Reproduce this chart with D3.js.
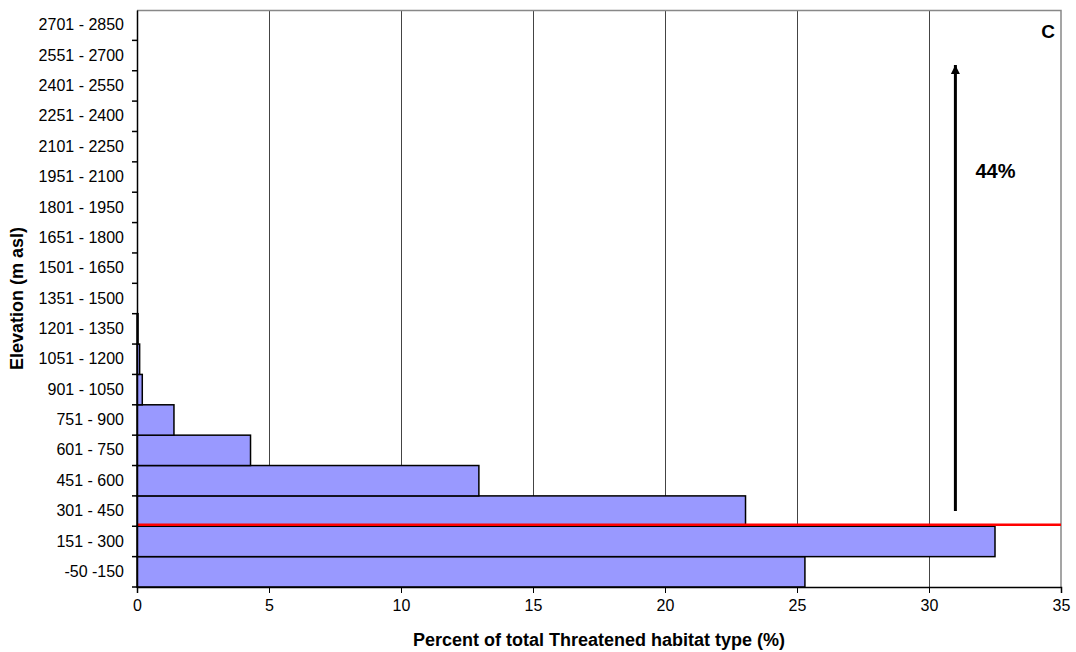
<!DOCTYPE html>
<html>
<head>
<meta charset="utf-8">
<script src="https://cdn.jsdelivr.net/npm/d3@7"></script>
<style>
  body { margin: 0; background: #fff; }
  svg { font-family: "Liberation Sans", Arial, sans-serif; }
</style>
</head>
<body>
<svg id="chart" width="1076" height="652"></svg>
<script>
// elevation classes, bottom to top
const elevations = ["-50 -150", "151 - 300", "301 - 450", "451 - 600", "601 - 750",
  "751 - 900", "901 - 1050", "1051 - 1200", "1201 - 1350", "1351 - 1500",
  "1501 - 1650", "1651 - 1800", "1801 - 1950", "1951 - 2100", "2101 - 2250",
  "2251 - 2400", "2401 - 2550", "2551 - 2700", "2701 - 2850"];
const percents = [25.3, 32.5, 23.05, 12.95, 4.3, 1.4, 0.2, 0.1, 0.04, 0, 0, 0, 0, 0, 0, 0, 0, 0, 0];
const xTicks = [0, 5, 10, 15, 20, 25, 30, 35];
const arrowAt = 31;        // x value of the arrow
const arrowLabel = "44%";
const panelLabel = "C";

const margin = { top: 10, right: 15, bottom: 65, left: 137 };
const width = 1076, height = 652;
const svg = d3.select("#chart");
const g = svg.append("g").attr("transform", "translate(" + margin.left + "," + margin.top + ")");
const w = width - margin.left - margin.right;
const h = height - margin.top - margin.bottom;

const x = d3.scaleLinear().domain([0, 35]).range([0, w]);
const y = d3.scaleBand().domain(elevations).range([h, 0]).padding(0);

// vertical gridlines
g.selectAll(".grid")
  .data(xTicks.slice(1, -1))
  .enter().append("line")
  .attr("x1", d => x(d)).attr("x2", d => x(d))
  .attr("y1", 0).attr("y2", h)
  .attr("stroke", "#444").attr("stroke-width", 1)
  .attr("shape-rendering", "crispEdges");

// frame top/right
g.append("path")
  .attr("d", "M0,0.5H" + w + "V" + h)
  .attr("fill", "none").attr("stroke", "#888").attr("stroke-width", 1.5);

// bars
g.selectAll(".bar")
  .data(percents.map((v, i) => ({ cat: elevations[i], v: v })).filter(d => d.v > 0))
  .enter().append("rect")
  .attr("x", 0)
  .attr("y", d => y(d.cat))
  .attr("width", d => x(d.v))
  .attr("height", y.bandwidth())
  .attr("fill", "#9999ff")
  .attr("stroke", "#000").attr("stroke-width", 1.5);

// red threshold line between 151-300 and 301-450
const redY = y("301 - 450") + y.bandwidth() - 1.5;
g.append("line")
  .attr("x1", 0).attr("x2", w)
  .attr("y1", redY).attr("y2", redY)
  .attr("stroke", "#ff0000").attr("stroke-width", 2.5);

// x axis
const xAxis = g.append("g")
  .attr("transform", "translate(0," + h + ")")
  .call(d3.axisBottom(x).tickValues(xTicks).tickSize(6).tickPadding(7));
xAxis.select(".domain").attr("stroke", "#000").attr("stroke-width", 1.5);
xAxis.selectAll("text").style("font-size", "16px").attr("fill", "#000");

// y axis, ticks at band edges
const yAxis = g.append("g").call(d3.axisLeft(y).tickSize(0).tickPadding(13));
yAxis.select(".domain").attr("stroke", "#000").attr("stroke-width", 1.5);
yAxis.selectAll("text").style("font-size", "16px").attr("fill", "#000");
g.selectAll(".ytick")
  .data(elevations)
  .enter().append("line")
  .attr("x1", -5).attr("x2", 0)
  .attr("y1", d => y(d) + y.bandwidth()).attr("y2", d => y(d) + y.bandwidth())
  .attr("stroke", "#000").attr("stroke-width", 1.5);

// axis titles
svg.append("text")
  .attr("x", margin.left + w / 2).attr("y", 646)
  .attr("text-anchor", "middle")
  .style("font-size", "18px").style("font-weight", "bold")
  .text("Percent of total Threatened habitat type (%)");
svg.append("text")
  .attr("transform", "translate(23," + (margin.top + h / 2) + ") rotate(-90)")
  .attr("text-anchor", "middle")
  .style("font-size", "18px").style("font-weight", "bold")
  .text("Elevation (m asl)");

// arrow
svg.append("defs").append("marker")
  .attr("id", "head").attr("viewBox", "0 0 10 10")
  .attr("refX", 10).attr("refY", 5)
  .attr("markerWidth", 9).attr("markerHeight", 10)
  .attr("markerUnits", "userSpaceOnUse")
  .attr("orient", "auto")
  .append("path").attr("d", "M0,0L10,5L0,10Z").attr("fill", "#000");
g.append("line")
  .attr("x1", x(arrowAt)).attr("x2", x(arrowAt))
  .attr("y1", 501).attr("y2", 55)
  .attr("stroke", "#000").attr("stroke-width", 3)
  .attr("marker-end", "url(#head)");

g.append("text")
  .attr("x", x(arrowAt) + 20).attr("y", 168)
  .style("font-size", "20px").style("font-weight", "bold")
  .text(arrowLabel);

g.append("text")
  .attr("x", w - 6).attr("y", 28)
  .attr("text-anchor", "end")
  .style("font-size", "19px").style("font-weight", "bold")
  .text(panelLabel);
</script>
</body>
</html>
